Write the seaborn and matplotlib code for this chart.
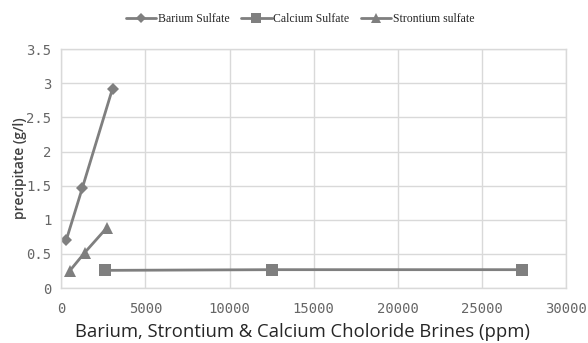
import matplotlib
matplotlib.use("Agg")
import matplotlib.pyplot as plt
import seaborn as sns
import pandas as pd
from matplotlib.lines import Line2D

# Precipitate measurements per brine concentration
barium_ppm = [300, 1250, 3050]
barium_gl = [0.70, 1.46, 2.92]
calcium_ppm = [2600, 12500, 27400]
calcium_gl = [0.26, 0.27, 0.27]
strontium_ppm = [500, 1400, 2700]
strontium_gl = [0.25, 0.52, 0.88]

series_names = ["Barium Sulfate", "Calcium Sulfate", "Strontium sulfate"]
x_ticks = [0, 5000, 10000, 15000, 20000, 25000, 30000]
y_ticks = [0, 0.5, 1, 1.5, 2, 2.5, 3, 3.5]

rows = []
for name, xs, ys in zip(series_names,
                        [barium_ppm, calcium_ppm, strontium_ppm],
                        [barium_gl, calcium_gl, strontium_gl]):
    for x, y in zip(xs, ys):
        rows.append({"ppm": x, "precipitate": y, "series": name})
df = pd.DataFrame(rows)

sns.set_theme(style="white")
fig = plt.figure(figsize=(5.88, 3.43), dpi=100)
ax = fig.add_axes([0.104, 0.160, 0.859, 0.697])

gray = "#7f7f7f"
sns.lineplot(
    data=df, x="ppm", y="precipitate", hue="series", style="series",
    hue_order=series_names, style_order=series_names,
    palette=[gray, gray, gray],
    markers={"Barium Sulfate": "D", "Calcium Sulfate": "s", "Strontium sulfate": "^"},
    dashes=False, linewidth=2.0, markersize=7, markeredgewidth=0,
    sort=False, estimator=None, ax=ax, legend=False,
)
# diamonds a touch smaller than squares
for line, ms in zip(ax.get_lines(), [6, 8, 8]):
    line.set_markersize(ms)

ax.set_xlim(0, 30000)
ax.set_ylim(0, 3.5)
ax.set_xticks(x_ticks)
ax.set_yticks(y_ticks)
ax.set_xticklabels([str(t) for t in x_ticks])
ax.set_yticklabels(["0", "0.5", "1", "1.5", "2", "2.5", "3", "3.5"])
ax.grid(True, color="#d9d9d9", linewidth=1.0)
ax.set_axisbelow(True)
for s in ax.spines.values():
    s.set_color("#d9d9d9")
    s.set_linewidth(1.0)

ax.tick_params(axis="both", length=0, labelsize=10, colors="#666666", pad=7)
ax.tick_params(axis="x", pad=10)
for lbl in ax.get_xticklabels() + ax.get_yticklabels():
    lbl.set_family("DejaVu Sans Mono")

ax.set_xlabel("Barium, Strontium & Calcium Choloride Brines (ppm)",
              fontsize=13.3, color="#262626", family="Open Sans")
ax.xaxis.set_label_coords(0.478, -0.145)
ax.set_ylabel("precipitate (g/l)", fontsize=10, color="#404040",
              family="Open Sans", fontweight="semibold")
ax.yaxis.set_label_coords(-0.068, 0.5)

handles = [
    Line2D([], [], color=gray, lw=2.0, marker="D", ms=5, mew=0),
    Line2D([], [], color=gray, lw=2.0, marker="s", ms=7, mew=0),
    Line2D([], [], color=gray, lw=2.0, marker="^", ms=7, mew=0),
]
leg = fig.legend(handles, series_names, loc="center", bbox_to_anchor=(0.51, 0.945),
                 ncol=3, frameon=False, handlelength=2.6, handletextpad=0.1,
                 columnspacing=1.0, prop={"family": "Liberation Serif", "size": 8.5})
for t in leg.get_texts():
    t.set_color("#262626")

fig.savefig("out.png", dpi=100)
